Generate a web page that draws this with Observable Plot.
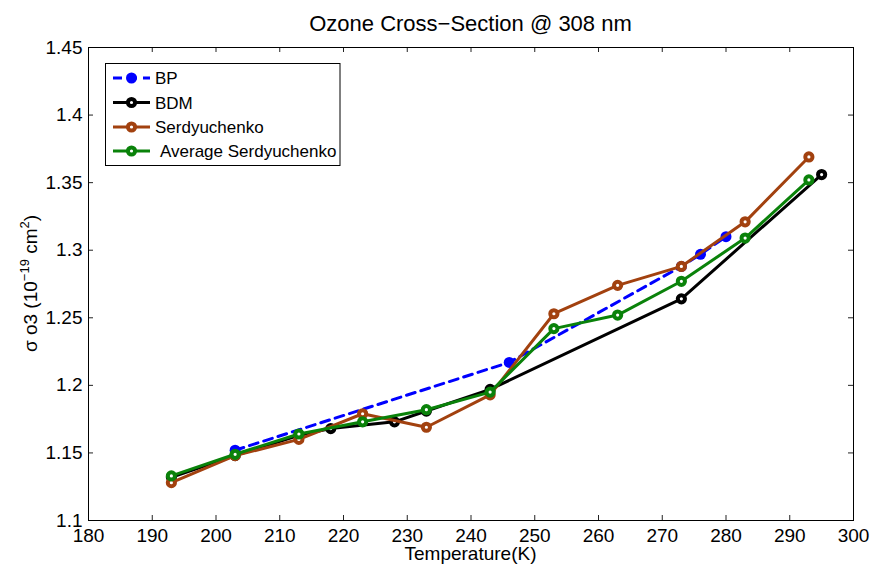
<!DOCTYPE html>
<html>
<head>
<meta charset="utf-8">
<script src="https://cdn.jsdelivr.net/npm/d3@7"></script>
<script src="https://cdn.jsdelivr.net/npm/@observablehq/plot@0.6"></script>
<style>
  html, body { margin: 0; padding: 0; background: white; }
  #chart { width: 872px; height: 568px; }
</style>
</head>
<body>
<div id="chart"></div>
<script>
// ---- data ----
const seriesNames = ["BP", "BDM", "Serdyuchenko", "Average Serdyuchenko"];
const bpTemps = [203, 246, 273, 276, 280];
const bpValues = [1.152, 1.217, 1.288, 1.297, 1.310];
const bdmTemps = [193, 203, 213, 218, 228, 233, 243, 273, 295];
const bdmValues = [1.132, 1.148, 1.163, 1.168, 1.173, 1.181, 1.197, 1.264, 1.356];
const serTemps = [193, 203, 213, 223, 233, 243, 253, 263, 273, 283, 293];
const serValues = [1.128, 1.148, 1.160, 1.179, 1.169, 1.193, 1.253, 1.274, 1.288, 1.321, 1.369];
const avgTemps = [193, 203, 213, 223, 233, 243, 253, 263, 273, 283, 293];
const avgValues = [1.133, 1.149, 1.164, 1.173, 1.182, 1.195, 1.242, 1.252, 1.277, 1.309, 1.352];
const xTicks = [180, 190, 200, 210, 220, 230, 240, 250, 260, 270, 280, 290, 300];
const yTicks = [1.1, 1.15, 1.2, 1.25, 1.3, 1.35, 1.4, 1.45];
const titleText = "Ozone Cross\u2212Section @ 308 nm";
const xLabel = "Temperature(K)";

// ---- styles ----
const colors = {"BP": "#0000ff", "BDM": "#000000", "Serdyuchenko": "#a2410f", "Average Serdyuchenko": "#0a820a"};
const W = 872, H = 568;
const mL = 88, mR = 19, mT = 47, mB = 48;
const plotW = W - mL - mR, plotH = H - mT - mB;
const font = "'Liberation Sans', Arial, Helvetica, sans-serif";

const toRows = (name, ts, vs) => ts.map((t, i) => ({series: name, t, v: vs[i]}));
const bp = toRows("BP", bpTemps, bpValues);
const bdm = toRows("BDM", bdmTemps, bdmValues);
const ser = toRows("Serdyuchenko", serTemps, serValues);
const avg = toRows("Average Serdyuchenko", avgTemps, avgValues);

const tickColor = "#222";
const markR = 3.6, markSW = 4;
const solid = (rows, name) => [
  Plot.line(rows, {x: "t", y: "v", stroke: colors[name], strokeWidth: 3}),
  Plot.dot(rows, {x: "t", y: "v", r: markR, stroke: colors[name], strokeWidth: markSW, fill: "white"})
];

const chart = Plot.plot({
  width: W, height: H,
  marginLeft: mL, marginRight: mR, marginTop: mT, marginBottom: mB,
  style: {fontFamily: font, fontSize: "19px", color: "black", background: "white", overflow: "visible"},
  x: {domain: [180, 300]},
  y: {domain: [1.1, 1.45]},
  marks: [
    Plot.axisX({ticks: xTicks, tickSize: 0, tickPadding: 8, label: null, tickFormat: d => String(d), fontSize: 19}),
    Plot.axisY({ticks: yTicks, tickSize: 0, tickPadding: 6, label: null, tickFormat: d => String(d), fontSize: 19}),
    Plot.tickX(xTicks, {x: d => d, insetTop: plotH - 5, stroke: tickColor}),
    Plot.tickX(xTicks, {x: d => d, insetBottom: plotH - 5, stroke: tickColor}),
    Plot.tickY(yTicks, {y: d => d, insetRight: plotW - 5, stroke: tickColor}),
    Plot.tickY(yTicks, {y: d => d, insetLeft: plotW - 5, stroke: tickColor}),
    Plot.line(bp, {x: "t", y: "v", stroke: colors["BP"], strokeWidth: 3, strokeDasharray: "9,6"}),
    Plot.dot(bp, {x: "t", y: "v", r: 5.5, fill: colors["BP"]}),
    ...solid(bdm, "BDM"),
    ...solid(ser, "Serdyuchenko"),
    ...solid(avg, "Average Serdyuchenko"),
    Plot.frame({stroke: "black", strokeWidth: 1})
  ]
});
document.getElementById("chart").appendChild(chart);

const svg = d3.select(chart);
svg.selectAll('g[aria-label="x-axis tick label"], g[aria-label="y-axis tick label"]')
  .style("font-size", "19px").attr("font-size", 19)
  .selectAll("text").style("font-size", "19px");

// title
svg.append("text")
  .attr("x", mL + plotW / 2).attr("y", 31)
  .attr("text-anchor", "middle")
  .attr("font-family", font).attr("font-size", 22)
  .attr("fill", "black")
  .text(titleText);
// x label
svg.append("text")
  .attr("x", mL + plotW / 2).attr("y", 560)
  .attr("text-anchor", "middle")
  .attr("font-family", font).attr("font-size", 19)
  .attr("fill", "black")
  .text(xLabel);
// y label with superscripts
const yl = svg.append("text")
  .attr("transform", `translate(37,${mT + plotH / 2}) rotate(-90)`)
  .attr("text-anchor", "middle")
  .attr("font-family", font).attr("font-size", 19)
  .attr("fill", "black");
yl.append("tspan").text("\u03c3 o3 (10");
yl.append("tspan").attr("font-size", 13).attr("dy", -8).text("\u221219");
yl.append("tspan").attr("dy", 8).text(" cm");
yl.append("tspan").attr("font-size", 13).attr("dy", -8).text("2");
yl.append("tspan").attr("dy", 8).text(")");

// legend
const lg = svg.append("g").attr("text-anchor", "start");
lg.append("rect").attr("x", 105.5).attr("y", 63.5).attr("width", 234.5).attr("height", 102)
  .attr("fill", "white").attr("stroke", "black").attr("stroke-width", 1);
const rowY = [78, 102.5, 127, 151];
seriesNames.forEach((name, i) => {
  const y = rowY[i];
  const line = lg.append("line").attr("x1", 113).attr("x2", 150).attr("y1", y).attr("y2", y)
    .attr("stroke", colors[name]).attr("stroke-width", 3);
  if (name === "BP") {
    line.attr("stroke-dasharray", "9,6");
    lg.append("circle").attr("cx", 131.5).attr("cy", y).attr("r", 5.5).attr("fill", colors[name]);
  } else {
    lg.append("circle").attr("cx", 131.5).attr("cy", y).attr("r", markR)
      .attr("fill", "white").attr("stroke", colors[name]).attr("stroke-width", markSW);
  }
  lg.append("text").attr("x", name === "Average Serdyuchenko" ? 160 : 155).attr("y", y + 6)
    .attr("text-anchor", "start")
    .attr("font-family", font).attr("font-size", 17).attr("fill", "black")
    .text(name);
});
</script>
</body>
</html>
